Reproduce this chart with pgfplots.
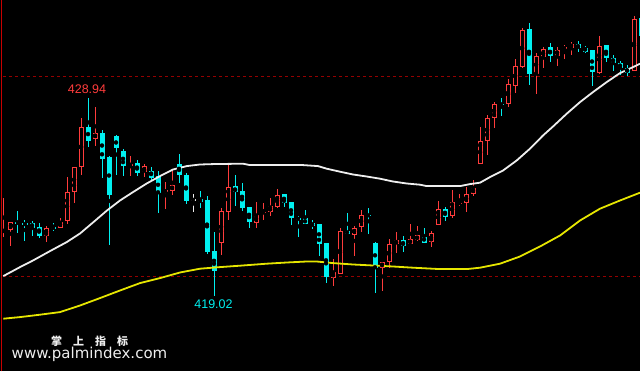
\documentclass[border=0pt]{standalone}
\usepackage{pgfplots}
\pgfplotsset{compat=1.18}
\usepackage{pgfplotstable}
\usepackage{fontspec}
\setmainfont{Liberation Sans}
\newfontfamily\cjk{Noto Sans CJK SC}
\newfontfamily\dejavu{DejaVu Sans}
\definecolor{cR}{RGB}{255,60,60}
\definecolor{cC}{RGB}{0,240,240}
\definecolor{cW}{RGB}{238,238,238}
\definecolor{cY}{RGB}{230,230,0}
\definecolor{cD}{RGB}{150,0,0}
\definecolor{cB}{RGB}{200,0,0}

\pgfplotstableread{
i bot top low high
0 422.22 422.34 421.97 423.92
1 422.32 422.75 421.52 422.75
6 422.02 422.45 421.72 422.55
8 422.44 422.75 422.44 422.95
9 422.77 424.25 422.64 424.95
10 424.23 425.45 423.67 425.45
11 425.48 427.45 425.08 427.92
13 426.87 427.20 426.55 428.47
18 425.52 425.65 425.02 426.00
20 425.20 425.50 424.97 425.62
23 424.22 424.30 423.37 424.75
24 424.27 424.60 424.09 425.29
31 421.67 423.30 421.10 423.44
32 423.22 424.50 422.80 425.69
36 422.67 423.09 422.40 423.70
37 423.17 423.25 422.85 423.70
38 423.22 423.50 423.00 423.90
39 423.47 424.10 423.42 424.40
47 419.94 420.20 419.52 420.90
48 420.14 422.30 420.14 422.44
50 422.09 422.44 421.02 422.54
51 422.47 423.05 422.24 423.35
54 420.42 420.74 419.27 420.74
55 420.72 421.65 420.42 421.85
56 421.64 421.80 421.17 422.25
58 421.62 421.85 421.62 422.65
59 421.82 422.05 421.80 422.55
61 421.72 422.15 421.47 422.25
62 422.57 423.35 422.57 423.80
64 423.02 423.70 422.92 424.30
65 423.65 423.70 423.52 424.10
66 423.67 424.14 423.22 424.50
67 424.12 424.45 424.02 424.85
68 425.64 426.80 425.64 427.50
69 426.77 427.90 426.07 428.10
70 427.92 428.65 427.42 428.75
72 428.64 429.60 428.47 429.90
73 429.52 430.54 429.17 430.90
74 430.47 432.34 430.44 432.45
76 430.14 431.05 429.12 431.17
77 430.97 431.35 430.42 431.47
79 431.04 431.35 430.52 431.47
80 431.35 431.45 430.87 431.57
81 431.42 431.65 431.07 431.75
85 430.17 431.54 430.12 432.00
90 430.27 432.85 430.27 433.02
}\tabR

\pgfplotstableread{
i bot top low high
2 422.62 422.75 422.17 423.25
3 422.57 422.67 421.80 422.85
4 422.45 422.67 422.05 422.80
5 422.02 422.47 421.92 422.69
7 422.37 422.49 422.30 422.70
12 426.77 427.47 426.47 428.94
14 425.90 427.20 424.92 427.30
15 424.10 426.00 421.55 426.00
16 426.40 427.00 425.10 427.10
17 425.52 426.25 425.05 426.39
19 425.15 425.65 425.05 425.85
21 424.95 425.30 424.84 425.45
22 424.17 425.00 423.17 425.25
25 425.05 425.60 424.67 426.10
26 423.80 425.10 423.62 425.19
28 423.70 423.85 423.42 424.30
29 421.22 423.80 421.14 424.05
30 420.27 421.30 419.02 422.25
33 424.20 424.50 423.55 425.10
34 423.42 424.30 423.27 424.70
35 422.72 423.45 422.44 423.50
40 423.67 424.10 423.47 424.10
41 422.92 423.70 422.57 423.70
42 422.82 422.95 421.97 423.04
43 422.62 422.90 422.62 423.30
44 422.55 422.67 422.37 422.80
45 421.62 422.60 421.02 422.65
46 419.97 421.65 419.67 421.65
49 422.12 422.30 422.12 423.15
52 423.02 423.10 422.12 423.40
53 420.42 421.70 419.17 421.75
57 421.52 421.82 421.22 422.04
60 421.70 422.00 421.65 422.40
63 422.97 423.40 422.77 423.50
71 428.57 428.65 428.02 428.95
75 430.12 432.35 429.57 432.70
78 431.02 431.45 430.72 431.70
82 431.42 431.62 431.22 431.75
83 431.25 431.45 431.20 431.55
84 430.20 431.30 429.52 431.35
86 430.92 431.55 430.72 431.55
87 430.67 430.95 430.27 431.07
88 430.42 430.67 430.10 430.77
89 430.17 430.45 430.00 430.59
91 432.02 432.90 431.90 432.95
}\tabC

\pgfplotstableread{
i bot top low high
27 423.81 423.86 423.20 424.10
}\tabW

\pgfplotsset{
  wick/.style={only marks, mark=none, forget plot,
    error bars/.cd, y dir=both, y explicit, error mark=none,
    error bar style={draw=#1, line width=1pt}},
  body/.style 2 args={only marks, mark=none, forget plot,
    error bars/.cd, y dir=both, y explicit, error mark=none,
    error bar style={draw=#1, line width=#2}},
}

\begin{document}
\begin{tikzpicture}
\fill[black] (0pt,0pt) rectangle (640pt,371pt);
\begin{axis}[at={(0pt,0pt)}, anchor=south west,
  width=640pt, height=371pt, scale only axis, hide axis,
  xmin=-0.5714, xmax=90.857, ymin=415.25, ymax=433.8, clip=true]

% dashed reference levels
\addplot[cD, line width=1pt, dash pattern=on 3pt off 3pt, forget plot] coordinates {(-1,430) (92,430)};
\addplot[cD, line width=1pt, dash pattern=on 3pt off 3pt, forget plot] coordinates {(-1,420) (92,420)};

% wicks
\addplot[wick=cR] table[x=i, y expr={(\thisrow{high}+\thisrow{low})/2}, y error expr={(\thisrow{high}-\thisrow{low})/2}] {\tabR};
\addplot[wick=cC] table[x=i, y expr={(\thisrow{high}+\thisrow{low})/2}, y error expr={(\thisrow{high}-\thisrow{low})/2}] {\tabC};
\addplot[wick=cW] table[x=i, y expr={(\thisrow{high}+\thisrow{low})/2}, y error expr={(\thisrow{high}-\thisrow{low})/2}] {\tabW};

% bodies
\addplot[body={cC}{5pt}] table[x=i, y expr={(\thisrow{top}+\thisrow{bot})/2}, y error expr={(\thisrow{top}-\thisrow{bot})/2}] {\tabC};
\addplot[body={cW}{5pt}] table[x=i, y expr={(\thisrow{top}+\thisrow{bot})/2}, y error expr={(\thisrow{top}-\thisrow{bot})/2}] {\tabW};
\addplot[body={cR}{5pt}] table[x=i, y expr={(\thisrow{top}+\thisrow{bot})/2}, y error expr={(\thisrow{top}-\thisrow{bot})/2}] {\tabR};
\addplot[body={black}{3pt}] table[x=i, y expr={(\thisrow{top}+\thisrow{bot})/2}, y error expr={max((\thisrow{top}-\thisrow{bot})/2-0.05,0)}] {\tabR};

% moving averages
\addplot[cW, line width=1.8pt, forget plot] coordinates {
(-0.10,420.02) (2.29,420.47) (4.14,420.80) (6.57,421.27) (8.96,421.72)
(10.86,422.15) (12.71,422.70) (14.71,423.30) (16.57,423.80) (18.43,424.22)
(20.39,424.65) (22.29,425.02) (24.14,425.35) (26.10,425.52) (28.00,425.60)
(29.86,425.62) (34.14,425.64) (35.14,425.57) (42.71,425.57) (44.86,425.52)
(46.10,425.39) (48.00,425.24) (49.86,425.10) (51.81,425.00) (53.71,424.89)
(55.57,424.75) (57.53,424.65) (59.43,424.59) (60.39,424.52) (65.14,424.52)
(66.57,424.62) (68.00,424.69) (69.43,424.97) (71.29,425.30) (73.24,425.80)
(75.14,426.39) (77.00,427.05) (78.43,427.50) (80.39,428.14) (82.29,428.72)
(84.14,429.22) (86.10,429.72) (88.00,430.17) (89.86,430.47) (90.86,430.64)
};
\addplot[cY, line width=1.8pt, forget plot] coordinates {
(-0.10,417.89) (2.29,417.97) (5.14,418.09) (8.00,418.22) (10.86,418.55)
(13.71,418.92) (16.57,419.30) (19.43,419.67) (22.29,419.92) (25.14,420.20)
(28.00,420.39) (30.86,420.47) (33.71,420.54) (37.53,420.64) (40.39,420.70)
(43.24,420.75) (44.67,420.75) (47.00,420.67) (49.86,420.60) (52.71,420.55)
(55.57,420.50) (58.43,420.44) (62.29,420.37) (66.10,420.37) (68.00,420.44)
(70.86,420.64) (73.71,421.00) (76.57,421.50) (79.43,422.05) (82.29,422.80)
(85.14,423.39) (88.00,423.80) (90.86,424.19)
};
\end{axis}
% left border
\draw[cB, line width=1pt] (1.5pt,0pt) -- (1.5pt,371pt);
% annotations
\node[text=cR, font=\fontsize{12.5}{14}\selectfont, inner sep=0pt] at (87pt,282pt) {428.94};
\node[text=cC, font=\fontsize{12.5}{14}\selectfont, inner sep=0pt] at (213.5pt,67pt) {419.02};
% watermark
\node[text=cW, font=\cjk\bfseries\fontsize{11}{12}\selectfont, inner sep=0pt] at (89.5pt,30.5pt) {掌\hspace{11pt}上\hspace{11pt}指\hspace{11pt}标};
\node[text=cW, font=\dejavu\fontsize{15}{16}\selectfont, inner sep=0pt] at (89.5pt,17pt) {www.palmindex.com};
\end{tikzpicture}
\end{document}
